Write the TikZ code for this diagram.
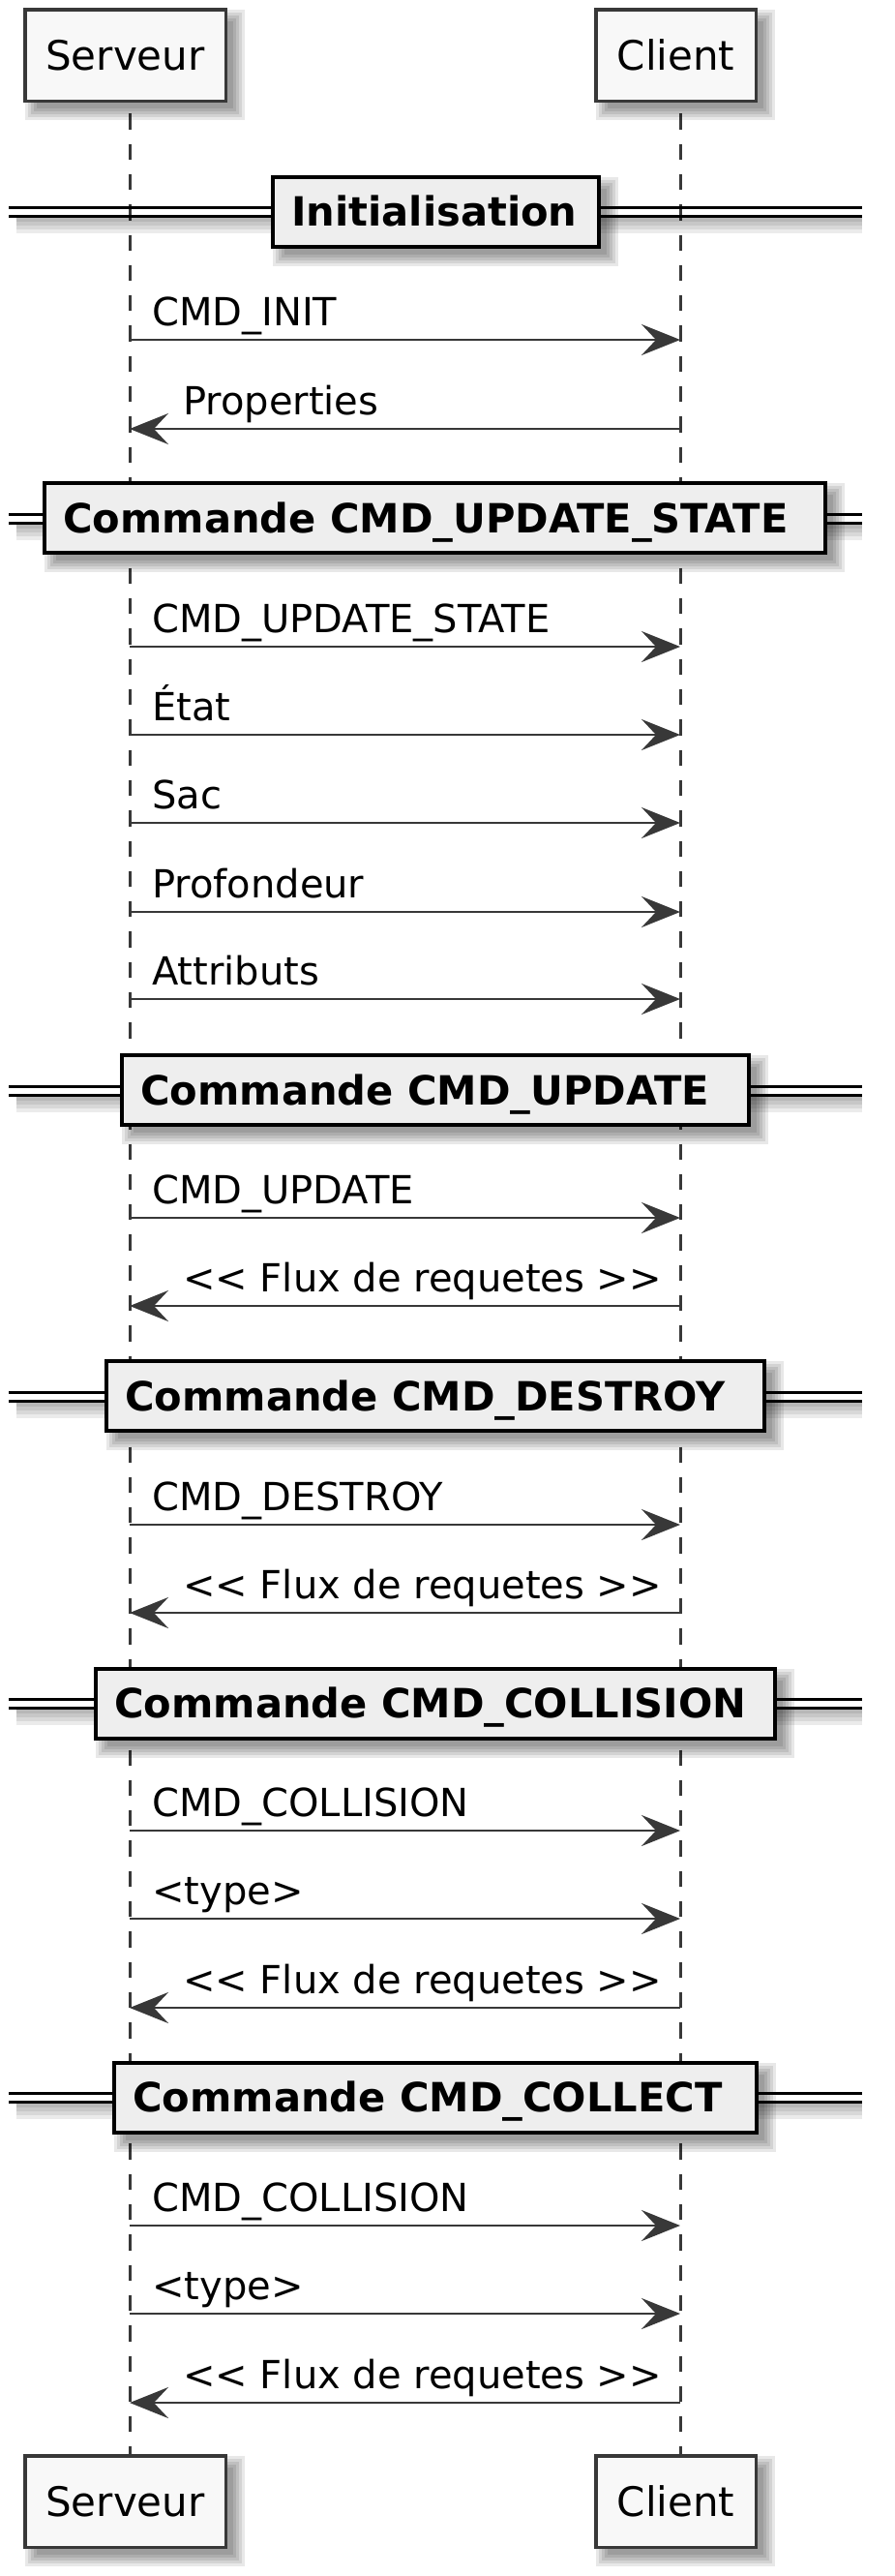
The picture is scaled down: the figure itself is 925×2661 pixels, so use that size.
\documentclass[tikz,border=0pt]{standalone}
\usepackage{fontspec}
\setmainfont{DejaVu Sans}
\usetikzlibrary{arrows.meta}
\definecolor{ink}{HTML}{383838}
\definecolor{divfill}{HTML}{EEEEEE}
\definecolor{partfill}{HTML}{F8F8F8}
\newcommand\softshadow[4]{%
  \foreach \s in {0,3,6,9,12}{%
    \fill[black, fill opacity=0.09] ({#1+14-\s},{#2+14-\s}) rectangle ({#3+6+\s},{#4+6+\s});}}
\begin{document}
\begin{tikzpicture}[x=1pt,y=-1pt,
  lifeline/.style={draw=ink, line width=3pt, dash pattern=on 16.3pt off 15pt, dash phase=20pt},
  msg/.style={draw=ink, line width=2.8pt, -{Stealth[length=40pt 0, width=32pt 0, inset=15pt 0]}},
  lbl/.style={font=\fontsize{40}{48}\selectfont, inner sep=0pt, anchor=base west, text=black},
  part/.style={draw=ink, fill=partfill, line width=3.5pt, minimum height=94.5pt, inner sep=0pt,
    font=\fontsize{42}{50}\selectfont, text height=30.6pt, text depth=0pt},
  divbox/.style={draw=black, fill=divfill, line width=4pt, minimum height=72pt, inner sep=0pt},
  divtxt/.style={font=\bfseries\fontsize{41.6}{49}\selectfont, inner sep=0pt, anchor=base west},
  sepline/.style={draw=black, line width=3pt}]
\useasboundingbox[fill=white] (0,0) rectangle (925,2661);

% lifelines
\coordinate (lsT) at (134,106);
\coordinate (lsB) at (134,2535);
\coordinate (lcT) at (703,106);
\coordinate (lcB) at (703,2535);
\draw[lifeline] (lsT) -- (lsB);
\draw[lifeline] (lcT) -- (lcB);

% dividers
\foreach \yc/\xl/\xr/\txt [count=\j] in {
  218.5/280/621/Initialisation,
  535/44/855/Commande CMD\_UPDATE\_STATE,
  1126/124/776/Commande CMD\_UPDATE,
  1442/108/792/Commande CMD\_DESTROY,
  1759.5/97/803/Commande CMD\_COLLISION,
  2166.5/116/784/Commande CMD\_COLLECT}{
  \foreach \h in {4,8,12,16}{
    \fill[black, fill opacity=0.08] (17,\yc+6.5) rectangle (891,\yc+6.5+\h);}
  \draw[sepline] (9,\yc-4) -- (891,\yc-4);
  \draw[sepline] (9,\yc+5) -- (891,\yc+5);
  \softshadow{\xl}{\yc-38}{\xr}{\yc+38}
  \node[divbox, minimum width={\xr-\xl-4}] (div\j) at ({(\xl+\xr)/2},\yc) {};
  \node[divtxt] (divt\j) at (\xl+21,\yc+15) {\txt};
}

% messages
\foreach \y/\lab/\dir [count=\i] in {
  351/CMD\_INIT/1,
  443/Properties/0,
  668/CMD\_UPDATE\_STATE/1,
  759/État/1,
  850/Sac/1,
  942/Profondeur/1,
  1032/Attributs/1,
  1258/CMD\_UPDATE/1,
  1349/<\kern0pt< Flux de requetes >\kern0pt>/0,
  1575/CMD\_DESTROY/1,
  1666/<\kern0pt< Flux de requetes >\kern0pt>/0,
  1891/CMD\_COLLISION/1,
  1982/<type>/1,
  2074/<\kern0pt< Flux de requetes >\kern0pt>/0,
  2299/CMD\_COLLISION/1,
  2390/<type>/1,
  2482/<\kern0pt< Flux de requetes >\kern0pt>/0}{
  \coordinate (s\i) at (134,\y);
  \coordinate (c\i) at (703,\y);
  \ifnum\dir=1
    \draw[msg] (s\i) -- (c\i);
    \node[lbl] (lab\i) at (157,\y-15) {\lab};
  \else
    \draw[msg] (c\i) -- (s\i);
    \node[lbl] (lab\i) at (189,\y-15) {\lab};
  \fi
}

% participants
\softshadow{24}{8}{235}{106}
\softshadow{614}{8}{783}{106}
\softshadow{24}{2535}{235}{2633}
\softshadow{614}{2535}{783}{2633}
\node[part, minimum width=207.5pt] (srvTop) at (129.5,57) {Serveur};
\node[part, minimum width=165.5pt] (cliTop) at (698.5,57) {Client};
\node[part, minimum width=207.5pt] (srvBot) at (129.5,2584) {Serveur};
\node[part, minimum width=165.5pt] (cliBot) at (698.5,2584) {Client};
\end{tikzpicture}
\end{document}
